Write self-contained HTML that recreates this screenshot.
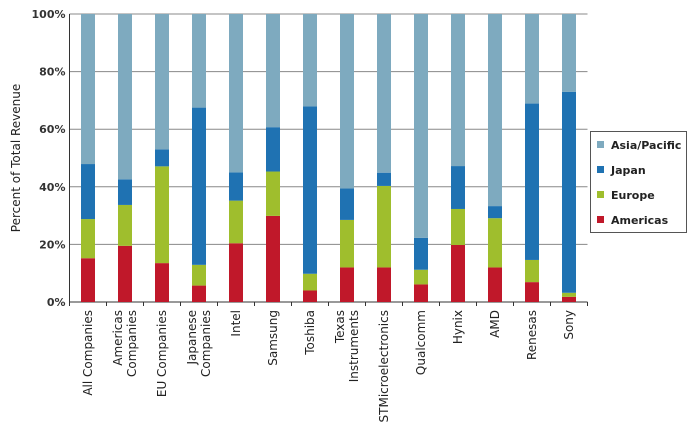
<!DOCTYPE html>
<html><head><meta charset="utf-8"><style>
body{margin:0;background:#fff;width:690px;height:434px;overflow:hidden;font-family:"DejaVu Sans","Liberation Sans",sans-serif}
</style></head><body>
<svg id="chart" width="690" height="434" xmlns="http://www.w3.org/2000/svg"></svg>
<script>
const categories=[["All Companies"],["Americas","Companies"],["EU Companies"],["Japanese","Companies"],["Intel"],["Samsung"],["Toshiba"],["Texas","Instruments"],["STMicroelectronics"],["Qualcomm"],["Hynix"],["AMD"],["Renesas"],["Sony"]];
const americas=[15.2,19.5,13.5,5.7,20.4,29.9,4.0,12.0,12.0,6.1,19.8,12.0,6.9,1.8];
const europe=[13.6,14.2,33.6,7.2,14.8,15.4,5.8,16.5,28.3,5.1,12.5,17.1,7.7,1.4];
const japan=[19.1,8.9,5.9,54.6,9.8,15.4,58.1,10.9,4.6,11.1,14.9,4.2,54.3,69.8];
const yTicks=[0,20,40,60,80,100];
const seriesNames=["Americas","Europe","Japan","Asia/Pacific"];
const colors=["#c0182a","#9fbe2d","#1f72b2","#7eaabf"];
const NS="http://www.w3.org/2000/svg";
const svg=document.getElementById('chart');
const L=69.5,R=587.5,T=14,B=302,band=(R-L)/categories.length,bw=14;
const y=v=>B-(v/100)*(B-T);
const x=i=>L+band*(i+0.5);
function mk(t,a){const e=document.createElementNS(NS,t);for(const k in a)e.setAttribute(k,a[k]);svg.appendChild(e);return e;}
yTicks.forEach(t=>{
 const g=mk('line',{x1:L,x2:R,y1:y(t),y2:y(t),stroke:t===0?'#333':'#888','stroke-width':1});
 
 
 const tx=mk('text',{x:L-4,y:y(t)+4,'text-anchor':'end','font-size':11,'font-weight':'bold',fill:'#333'});
 tx.textContent=t+'%';
 
 
});
const ax=mk('line',{x1:L,x2:L,y1:T,y2:B,stroke:'#333'});


const yt=mk('text',{x:0,y:0,transform:'translate(20,158) rotate(-90)','text-anchor':'middle','font-size':12,fill:'#222'});
yt.textContent='Percent of Total Revenue';


for(let i=0;i<=categories.length;i++){
 const tk=mk('line',{x1:L+band*i,x2:L+band*i,y1:B,y2:B+4,stroke:'#333'});
 
 
}
categories.forEach((c,i)=>{
 const asia=100-americas[i]-europe[i]-japan[i];
 const vals=[americas[i],europe[i],japan[i],asia];
 let cum=0;
 vals.forEach((v,s)=>{
  const r=mk('rect',{x:x(i)-bw/2,y:y(cum+v),width:bw,height:y(cum)-y(cum+v),fill:colors[s]});
  
  
  cum+=v;
 });
 const n=c.length;
 c.forEach((line,j)=>{
  const off=(j-(n-1)/2)*14+4;
  const t=mk('text',{x:0,y:0,transform:`translate(${x(i)+off},${B+8}) rotate(-90)`,'text-anchor':'end','font-size':12,fill:'#222'});
  t.textContent=line;
  
  
 });
});
const lg=mk('rect',{x:590.5,y:131.5,width:96,height:101,fill:'#fff',stroke:'#555'});


[3,2,1,0].forEach((s,k)=>{
 const yy=145+k*25;
 const sw=mk('rect',{x:597,y:yy-4,width:7,height:7,fill:colors[s]});
 
 
 const t=mk('text',{x:611,y:yy+4,'font-size':11,'font-weight':'bold',fill:'#222'});
 t.textContent=seriesNames[s];
 
 
});
</script>
</body></html>
